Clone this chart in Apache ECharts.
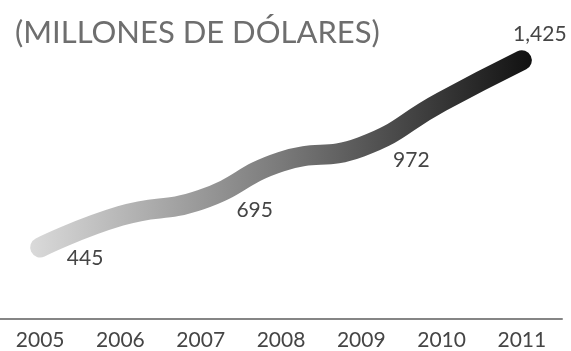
<!DOCTYPE html>
<html>
<head>
<meta charset="utf-8">
<script src="https://cdn.jsdelivr.net/npm/echarts@6/dist/echarts.min.js"></script>
<style>
  html, body { margin: 0; padding: 0; background: #ffffff; }
  #chart { width: 571px; height: 351px; }
</style>
</head>
<body>
<div id="chart"></div>
<script>
// Annual amounts, millions of dollars
const years = ['2005', '2006', '2007', '2008', '2009', '2010', '2011'];
const amounts = [445, 610, 695, 894, 972, 1208, 1425];
// Years whose amount is printed next to the line
const labeledYears = ['2005', '2007', '2009', '2011'];
// Label offsets from each printed point, in pixels
const labelOffsets = {
  '2005': [45, 11],
  '2007': [54, 11],
  '2009': [50, 13],
  '2011': [18, -26]
};

const chart = echarts.init(document.getElementById('chart'), null, { renderer: 'canvas' });

const fontFamily = 'Lato, "Open Sans", "DejaVu Sans", sans-serif';

const seriesData = amounts.map(function (v, i) {
  const y = years[i];
  const shown = labeledYears.indexOf(y) !== -1;
  return {
    value: v,
    label: shown ? { show: true, offset: labelOffsets[y] } : { show: false }
  };
});

chart.setOption({
  animation: false,
  title: {
    text: '(MILLONES DE DÓLARES)',
    left: 10,
    top: 12,
    textStyle: {
      fontFamily: fontFamily,
      fontSize: 31,
      fontWeight: 'normal',
      color: '#6e6e6e'
    }
  },
  grid: { left: -12, right: 9, top: 46, bottom: 28 },
  xAxis: {
    type: 'category',
    data: years,
    boundaryGap: true,
    axisLine: { show: true, lineStyle: { color: '#858585', width: 2 } },
    axisTick: { show: false },
    axisLabel: {
      margin: 11,
      fontFamily: fontFamily,
      fontSize: 21,
      color: '#454545'
    },
    splitLine: { show: false }
  },
  yAxis: {
    type: 'value',
    min: 70,
    max: 1500,
    show: false
  },
  series: [{
    type: 'line',
    data: seriesData,
    smooth: 0.5,
    symbol: 'circle',
    symbolSize: 1,
    showSymbol: true,
    itemStyle: { color: 'rgba(0,0,0,0)' },
    lineStyle: {
      width: 20,
      cap: 'round',
      join: 'round',
      color: new echarts.graphic.LinearGradient(0, 0, 1, 0, [
        { offset: 0, color: '#dadada' },
        { offset: 0.5, color: '#7a7a7a' },
        { offset: 1, color: '#111111' }
      ])
    },
    label: {
      position: 'inside',
      fontFamily: fontFamily,
      fontSize: 21,
      color: '#454545',
      formatter: function (p) { return p.value.toLocaleString('en-US'); }
    },
    emphasis: { disabled: true }
  }]
});
</script>
</body>
</html>
